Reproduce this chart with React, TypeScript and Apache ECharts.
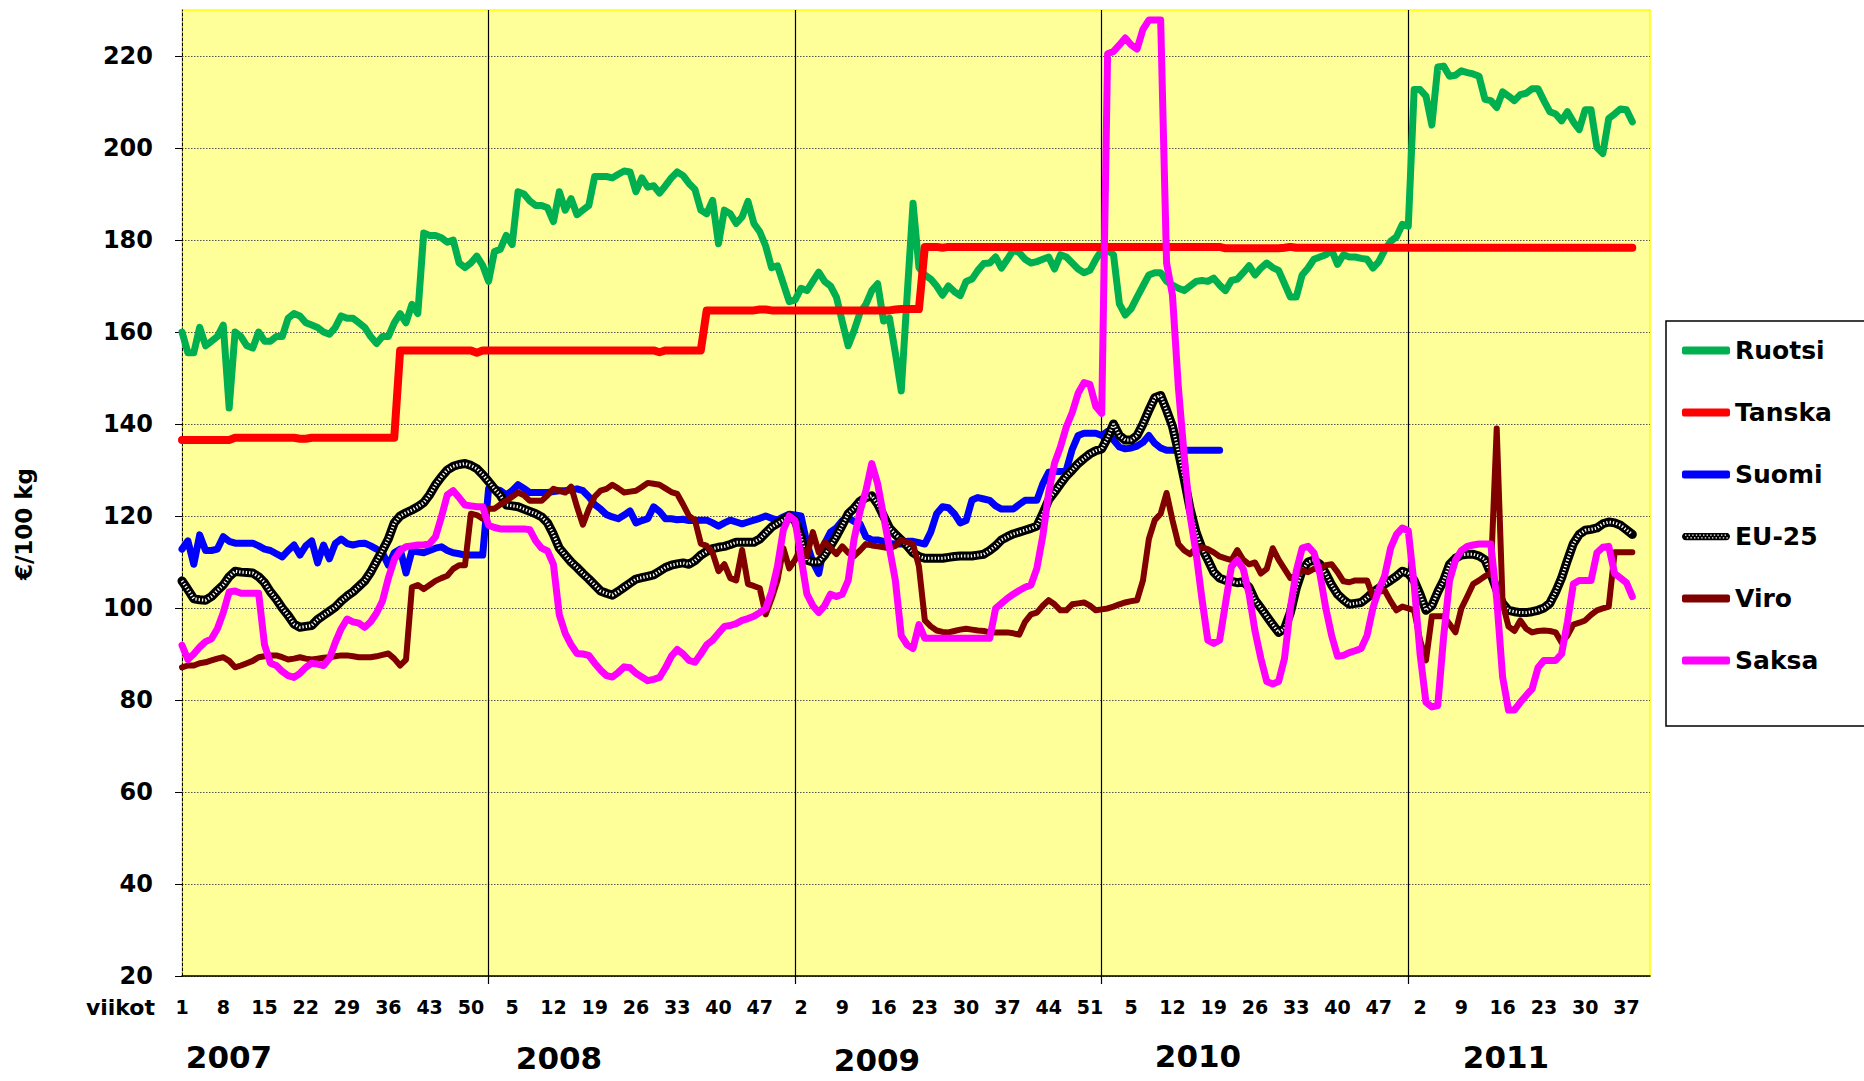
import React, { useEffect, useRef } from 'react';
import * as echarts from 'echarts';

const FONT = '"DejaVu Sans", "Liberation Sans", Arial, sans-serif';

// ---- axes / categories ----
const YEARS = ['2007', '2008', '2009', '2010', '2011'];
const WEEKS_IN_YEAR = [52, 52, 53, 52, 41];
const Y_TICKS = [20, 40, 60, 80, 100, 120, 140, 160, 180, 200, 220];
const Y_MIN = 20;
const Y_MAX = 230;
const WEEK_LABEL_STEP = 7;
const YEAR_GRID_STEP = 52;
const X_AXIS_TITLE = 'viikot';
const Y_AXIS_TITLE = '€/100 kg';

const SERIES_NAMES = ['Ruotsi', 'Tanska', 'Suomi', 'EU-25', 'Viro', 'Saksa'];
const SERIES_COLORS = ['#00B050', '#FF0000', '#0000FF', '#000000', '#800000', '#FF00FF'];

// ---- weekly prices, €/100 kg (2007 w1 ... 2011 w38) ----
const RUOTSI = [
  // 2007
  160, 155.5, 155.5, 161, 157, 158, 159, 161.5, 143.5, 160,
  159, 157, 156.5, 160, 158, 158, 159, 159, 163, 164,
  163.5, 162, 161.5, 161, 160, 159.5, 161, 163.5, 163, 163,
  162, 161, 159, 157.5, 159, 159, 162, 164, 162, 166,
  164, 181.5, 181, 181, 180.5, 179.5, 180, 175, 174, 175,
  176.5, 174.5,
  // 2008
  171, 177.5, 178, 181, 179, 190.5, 190, 188.5, 187.5, 187.5,
  187, 184, 190.5, 186.5, 189, 185.5, 186.5, 187.5, 193.8, 193.8,
  193.8, 193.5, 194.3, 195, 194.8, 190.5, 193.5, 191.5, 191.8, 190.2,
  191.8, 193.5, 194.8, 194, 192.3, 191, 186.5, 185.7, 188.6, 179.2,
  186.5, 185.7, 183.6, 185, 188.4, 183.6, 181.8, 178.7, 174, 174.4,
  170.5, 166.6,
  // 2009
  167, 169.5, 169, 171, 173, 171, 170, 167.6, 162.2, 157,
  160.3, 164.2, 166, 169, 170.5, 162.4, 163, 155.4, 147.2, 168,
  188, 174, 172.4, 171.5, 170, 168, 170, 168.8, 167.9, 171,
  171.5, 173.4, 174.9, 175, 176.3, 173.9, 175.8, 177.8, 177.3, 175.8,
  175, 175.3, 175.8, 176.3, 173.7, 176.8, 176.3, 175, 173.7, 172.9,
  173.4, 175.8, 177.8,
  // 2010
  177.8, 176.8, 166.1, 163.7, 165.1, 167.6, 170, 172.4, 172.9, 172.9,
  171, 170.2, 169.5, 169, 170, 171, 171.2, 171, 171.7, 170.2,
  169, 171.2, 171.5, 172.9, 174.4, 172.4, 173.9, 175, 174, 173.4,
  170.5, 167.6, 167.6, 172.4, 173.9, 175.8, 176.3, 176.8, 177.8, 174.7,
  176.8, 176.3, 176.3, 176, 175.8, 173.9, 175.3, 177.8, 179.7, 180.7,
  183.4, 183,
  // 2011
  212.7, 212.7, 211.3, 205, 217.6, 217.8, 215.6, 215.8, 216.8, 216.4,
  216.1, 215.6, 210.6, 210.3, 208.8, 212.2, 211.3, 210.3, 211.6, 211.9,
  212.9, 212.9, 210.3, 207.9, 207.4, 205.9, 207.9, 205.7, 204, 208.3,
  208.3, 200.1, 198.8, 206.4, 207.4, 208.5, 208.3, 205.7,
];

const TANSKA = [
  // 2007
  136.5, 136.5, 136.5, 136.5, 136.5, 136.5, 136.5, 136.5, 136.5, 137,
  137, 137, 137, 137, 137, 137, 137, 137, 137, 137,
  136.8, 136.8, 137, 137, 137, 137, 137, 137, 137, 137,
  137, 137, 137, 137, 137, 137, 137, 156, 156, 156,
  156, 156, 156, 156, 156, 156, 156, 156, 156, 156,
  155.5, 156,
  // 2008
  156, 156, 156, 156, 156, 156, 156, 156, 156, 156,
  156, 156, 156, 156, 156, 156, 156, 156, 156, 156,
  156, 156, 156, 156, 156, 156, 156, 156, 156, 155.6,
  156, 156, 156, 156, 156, 156, 156, 164.7, 164.7, 164.7,
  164.7, 164.7, 164.7, 164.7, 164.7, 164.7, 164.9, 164.9, 164.7, 164.7,
  164.7, 164.7,
  // 2009
  164.7, 164.7, 164.7, 164.7, 164.7, 164.7, 164.7, 164.7, 164.7, 164.7,
  164.7, 164.7, 164.7, 164.7, 164.7, 164.7, 164.7, 164.9, 165, 165,
  165, 165, 178.5, 178.5, 178.5, 178.3, 178.5, 178.5, 178.5, 178.5,
  178.5, 178.5, 178.5, 178.5, 178.5, 178.5, 178.5, 178.5, 178.5, 178.5,
  178.5, 178.5, 178.5, 178.5, 178.5, 178.5, 178.5, 178.5, 178.5, 178.5,
  178.5, 178.5, 178.5,
  // 2010
  178.5, 178.5, 178.5, 178.5, 178.5, 178.5, 178.5, 178.5, 178.5, 178.5,
  178.5, 178.5, 178.5, 178.5, 178.5, 178.5, 178.5, 178.5, 178.5, 178.5,
  178.2, 178.2, 178.2, 178.2, 178.2, 178.2, 178.2, 178.2, 178.2, 178.2,
  178.3, 178.5, 178.3, 178.3, 178.3, 178.3, 178.3, 178.3, 178.3, 178.3,
  178.3, 178.3, 178.3, 178.3, 178.3, 178.3, 178.3, 178.3, 178.3, 178.3,
  178.3, 178.3,
  // 2011
  178.3, 178.3, 178.3, 178.3, 178.3, 178.3, 178.3, 178.3, 178.3, 178.3,
  178.3, 178.3, 178.3, 178.3, 178.3, 178.3, 178.3, 178.3, 178.3, 178.3,
  178.3, 178.3, 178.3, 178.3, 178.3, 178.3, 178.3, 178.3, 178.3, 178.3,
  178.3, 178.3, 178.3, 178.3, 178.3, 178.3, 178.3, 178.3,
];

const SUOMI = [
  // 2007
  112.8, 114.6, 109.5, 115.9, 112.5, 112.5, 112.8, 115.5, 114.5, 114.1,
  114.1, 114.1, 114.1, 113.5, 112.8, 112.5, 111.8, 111.1, 112.5, 113.7,
  111.5, 113.5, 114.6, 109.8, 113.7, 110.7, 114, 115, 114, 113.7,
  114, 114.1, 113.5, 112.8, 112, 109.3, 112, 112.8, 107.6, 112.4,
  112.2, 112, 112.5, 113, 113.3, 112.5, 112, 111.8, 111.5, 111.5,
  111.5, 111.5,
  // 2008
  125.9, 125.9, 125.5, 124.6, 125.5, 126.8, 126, 125.1, 125.1, 125.1,
  125.1, 125.3, 125.5, 125.5, 125.7, 125.9, 125.5, 124.2, 122.5, 121.5,
  120.3, 119.8, 119.4, 120.2, 121.1, 118.5, 119, 119.4, 122, 121,
  119.4, 119.4, 119.2, 119.3, 119, 119, 119.1, 119.1, 118.5, 117.8,
  118.5, 119.1, 118.7, 118.3, 118.7, 119.1, 119.5, 120, 119.5, 119.1,
  119.8, 120.4,
  // 2009
  120.2, 120, 114, 110, 107.5, 114, 116.5, 117.4, 119, 119.6,
  118.8, 118.3, 115.5, 114.8, 114.8, 114.5, 114, 113.9, 113.9, 114.5,
  114.5, 114.2, 113.9, 116.5, 120.5, 122, 121.8, 120.5, 118.5, 119,
  123.5, 124, 123.7, 123.4, 122.2, 121.5, 121.5, 121.5, 122.5, 123.4,
  123.4, 123.4, 127, 129.5, 129.7, 129.7, 130, 134.5, 137.5, 138,
  138, 138, 137.5,
  // 2010 (series ends at week 20)
  138.4, 136.5, 135, 134.6, 134.8, 135.2, 136, 137.5, 135.8, 134.8,
  134.3, 134.3, 134.3, 134.3, 134.3, 134.3, 134.3, 134.3, 134.3, 134.3,
];

const EU25 = [
  // 2007
  105.9, 104, 102, 101.8, 101.7, 102.5, 103.8, 105, 106.8, 108,
  107.8, 107.7, 107.6, 106.8, 105.5, 103.5, 101.9, 100, 98.4, 96.5,
  95.8, 96, 96.2, 97.5, 98.4, 99.3, 100.2, 101.5, 102.6, 103.5,
  104.7, 105.9, 107.8, 110.2, 112.5, 115, 118.5, 120, 120.7, 121.3,
  122, 122.9, 124.6, 126.8, 128.5, 130, 130.8, 131.2, 131.4, 131,
  130.3, 129,
  // 2008
  127.5, 125.9, 124.5, 122.4, 122.2, 122, 121.5, 121, 120.5, 119.8,
  118.5, 116, 113, 111.5, 110, 108.8, 107.5, 106.3, 105, 103.7,
  103.2, 102.8, 103.6, 104.5, 105.4, 106.3, 106.6, 106.9, 107.2, 108,
  108.8, 109.3, 109.6, 109.8, 109.5, 110.3, 111.5, 112.3, 112.9, 113.2,
  113.4, 113.8, 114.3, 114.3, 114.3, 114.3, 115, 116.3, 117.6, 118.4,
  119.2, 120,
  // 2009
  119, 115.5, 110.4, 110, 110, 111.5, 113.5, 115.6, 118, 120.5,
  121.7, 123.2, 124, 124.4, 122.6, 120, 117.4, 116, 114.8, 113.5,
  112, 111.2, 110.8, 110.8, 110.8, 110.8, 111, 111.2, 111.3, 111.3,
  111.3, 111.5, 111.7, 112.5, 113.5, 114.8, 115.5, 116.1, 116.5, 116.9,
  117.3, 117.8, 120.5, 123.5, 125.2, 127, 128.7, 130, 131.4, 132.5,
  133.5, 134.2, 134.6,
  // 2010
  137, 140, 137.5, 136.5, 136.5, 137.5, 140, 143, 145.7, 146.2,
  143, 139.5, 134, 128, 121.5, 116.5, 113, 110.5, 107.8, 106.5,
  106, 105.8, 105.5, 105.7, 104.5, 101.7, 100, 98.2, 96.4, 94.7,
  95.5, 99, 104.3, 108.2, 110, 110.4, 109.5, 107.5, 105, 103,
  101.8, 100.8, 101, 101.2, 102.2, 103.4, 104.3, 105.2, 106, 106.9,
  108, 107.5,
  // 2011
  106, 103, 99.5, 100.5, 103.5, 106, 109.5, 110.8, 111.5, 111.7,
  111.7, 111.3, 110.5, 107.5, 104, 101, 99.5, 99.2, 99, 99,
  99.2, 99.5, 100, 101, 103.5, 106.5, 110.4, 114, 116, 116.9,
  117.1, 117.4, 118.3, 118.7, 118.5, 118, 117, 116,
];

const VIRO = [
  // 2007
  87.1, 87.5, 87.5, 88, 88.2, 88.6, 89, 89.3, 88.5, 87.1,
  87.5, 88, 88.5, 89.3, 89.5, 89.7, 89.7, 89.3, 88.8, 89,
  89.3, 89, 88.8, 89, 89.2, 89.3, 89.5, 89.7, 89.7, 89.5,
  89.3, 89.3, 89.3, 89.5, 89.8, 90.1, 89, 87.5, 88.8, 104.5,
  105, 104.1, 105, 105.9, 106.5, 107, 108.5, 109.3, 109.3, 120.5,
  120.2, 119.4,
  // 2008
  121.6, 121.6, 122.5, 123.3, 124.2, 125.1, 124.5, 123.3, 123.3, 123.3,
  124.5, 125.9, 125.5, 125.1, 126.4, 122, 118.1, 121.5, 124.2, 125.5,
  125.9, 126.8, 126, 125.1, 125.3, 125.5, 126.3, 127.2, 127, 126.8,
  126, 125.2, 124.8, 122.5, 120, 119.1, 114, 113.5, 112, 108,
  109.5, 106.5, 106, 112.6, 105.2, 104.8, 104.3, 98.6, 102, 106,
  113, 108.6,
  // 2009
  110.5, 113, 111.3, 116.5, 112.1, 114.3, 113, 111.7, 113.4, 112,
  111.3, 112.5, 113.9, 113.6, 113.4, 113.2, 113, 113.5, 114.8, 114.3,
  113.9, 109, 97.3, 96, 95.1, 94.8, 94.7, 95, 95.3, 95.5,
  95.3, 95.1, 95, 94.7, 94.7, 94.7, 94.7, 94.5, 94.2, 97,
  98.6, 99, 100.5, 101.7, 100.8, 99.5, 99.5, 100.8, 101, 101.2,
  100.5, 99.5, 99.7,
  // 2010
  99.9, 100.3, 100.8, 101.2, 101.5, 101.7, 106, 115, 119.1, 120.5,
  125, 119.1, 113.9, 112.5, 111.7, 113, 113.2, 112.8, 112.1, 111.2,
  110.8, 110.4, 112.6, 110.5, 109.5, 109.9, 107.5, 108.5, 113, 110.5,
  108.5, 106.5, 107, 108.2, 107.8, 108.5, 108.6, 109.3, 109.5, 107.8,
  105.8, 105.6, 106, 106, 106, 102.5, 103.5, 103.8, 101.5, 99.5,
  100.3, 99.9,
  // 2011
  99.5, 93, 88.6, 98.2, 98.2, 98.2, 96.5, 94.7, 99.9, 102.5,
  105.2, 106, 106.9, 107.5, 139, 101, 96, 95, 97.3, 95.5,
  94.7, 95, 95.1, 95, 94.7, 92.5, 94, 96.4, 96.8, 97.3,
  98.5, 99.5, 99.9, 100.3, 112.1, 112.1, 112.1, 112.1,
];

const SAKSA = [
  // 2007
  91.9, 88.8, 90, 91.5, 92.7, 93.3, 95.5, 99, 103.5, 103.7,
  103.2, 103.2, 103.2, 103.2, 92, 88, 87.5, 86.2, 85.3, 84.9,
  85.8, 87.1, 88, 87.8, 87.5, 89, 92.5, 95.5, 97.6, 97,
  96.7, 95.8, 97, 98.9, 101.5, 106.5, 110.5, 112.5, 113.3, 113.5,
  113.7, 113.7, 114, 115.5, 119.8, 124.6, 125.5, 124, 122.4, 122.2,
  122, 122,
  // 2008
  118, 117.5, 117.2, 117.2, 117.2, 117.2, 117.2, 117, 114.6, 113,
  112.4, 109.5, 98.5, 94.5, 92, 90.1, 90, 89.7, 88, 86.5,
  85.3, 85, 86, 87.2, 87, 85.8, 85, 84.2, 84.5, 84.9,
  87, 89.5, 91, 90, 88.6, 88.2, 90, 92, 93, 94.5,
  96, 96.2, 96.6, 97.3, 97.7, 98.2, 99, 99.9, 103.5, 109,
  117, 120,
  // 2009
  119, 111, 103, 100.5, 99, 100.5, 103, 102.5, 103, 106,
  115, 121, 125.5, 131.4, 127, 120, 113, 106, 94, 92,
  91.2, 96.4, 93.4, 93.4, 93.4, 93.4, 93.4, 93.4, 93.4, 93.4,
  93.4, 93.4, 93.4, 93.4, 99.9, 101, 102.1, 103, 103.8, 104.5,
  105, 108.6, 115.6, 125, 131.5, 135, 139.4, 142.5, 146.7, 149,
  148.6, 143.8, 142.3,
  // 2010
  220.5, 221, 222.4, 223.9, 222.4, 221.5, 225.8, 227.8, 227.8, 227.8,
  175, 168, 148, 133, 120, 112, 102, 93, 92.3, 93,
  101, 109, 110.4, 108.5, 103, 95, 89, 84, 83.5, 84,
  89, 100, 108, 113, 113.4, 112, 107.5, 100, 94, 89.5,
  89.7, 90.3, 90.7, 91.2, 94, 100, 104, 107, 113, 116,
  117.4, 116.8,
  // 2011
  105, 90, 79.5, 78.5, 78.8, 93.8, 106, 110.4, 112.5, 113.4,
  113.7, 113.9, 113.9, 113.9, 102, 85, 77.8, 77.8, 79.5, 81,
  82.4, 87, 88.6, 88.6, 88.6, 90, 97, 105.2, 106, 106,
  106, 112, 113.2, 113.4, 107.5, 106.5, 105.5, 102.5,
];

const SERIES_VALUES = [RUOTSI, TANSKA, SUOMI, EU25, VIRO, SAKSA];

// week number of every category along the x axis
const WEEKS: number[] = [];
WEEKS_IN_YEAR.forEach((n) => {
  for (let w = 1; w <= n; w++) WEEKS.push(w);
});
const X_MAX = WEEKS.length - 1;
const WEEK_TICKS = WEEKS.map((_, i) => i).filter((i) => i % WEEK_LABEL_STEP === 0);
const YEAR_TICKS = WEEKS.map((_, i) => i).filter((i) => i > 0 && i % YEAR_GRID_STEP === 0);

const toPairs = (vals: number[]) => vals.map((v, i) => [i, v]);

const EU_ICON =
  'image://data:image/svg+xml;charset=utf-8,' +
  encodeURIComponent(
    '<svg xmlns="http://www.w3.org/2000/svg" width="48" height="9">' +
      '<rect x="0" y="0" width="48" height="9" rx="4.5" fill="#000"/>' +
      '<line x1="3" y1="3" x2="46" y2="3" stroke="#fff" stroke-width="1.4" stroke-dasharray="1.4 2.2"/>' +
      '<line x1="4.8" y1="6" x2="46" y2="6" stroke="#fff" stroke-width="1.4" stroke-dasharray="1.4 2.2"/>' +
      '</svg>'
  );

export default function App() {
  const ref = useRef<HTMLDivElement>(null);

  useEffect(() => {
    document.body.style.margin = '0';
    if (!ref.current) return;
    const chart = echarts.init(ref.current, undefined, { renderer: 'svg' });

    const widths = [7, 8, 7, 9, 6, 7];
    const series: any[] = [];
    SERIES_NAMES.forEach((name, k) => {
      series.push({
        type: 'line',
        name,
        data: toPairs(SERIES_VALUES[k]),
        showSymbol: false,
        symbol: 'none',
        silent: true,
        lineStyle: { color: SERIES_COLORS[k], width: widths[k], cap: 'round', join: 'round' },
        itemStyle: { color: SERIES_COLORS[k] },
        emphasis: { disabled: true },
      });
      if (name === 'EU-25') {
        series.push({
          type: 'line',
          name: 'EU-25 pattern',
          data: toPairs(SERIES_VALUES[k]),
          showSymbol: false,
          symbol: 'none',
          silent: true,
          lineStyle: { color: '#FFFFFF', width: 3, type: [1.3, 2] },
          itemStyle: { color: '#FFFFFF' },
          emphasis: { disabled: true },
        });
      }
    });

    const labelText = { fontFamily: FONT, fontWeight: 'bold', color: '#000' };
    const yearPos = [
      [229, 1057],
      [559, 1058],
      [877, 1060],
      [1198, 1056],
      [1506, 1057],
    ];

    chart.setOption({
      animation: false,
      backgroundColor: '#FFFFFF',
      grid: {
        left: 182,
        right: 214,
        top: 10,
        bottom: 105,
        show: true,
        backgroundColor: '#FFFF99',
        borderColor: '#FFFF00',
        borderWidth: 1.5,
        containLabel: false,
        outerBoundsMode: 'none',
      },
      xAxis: {
        type: 'value',
        min: 0,
        max: X_MAX,
        axisLine: { show: true, onZero: false, lineStyle: { color: '#000', width: 1.5 } },
        axisTick: { show: true, customValues: YEAR_TICKS, length: 8, lineStyle: { color: '#000', width: 1.2 } },
        axisLabel: {
          customValues: WEEK_TICKS,
          formatter: (v: number) => String(WEEKS[Math.round(v)]),
          margin: 21,
          fontSize: 19,
          ...labelText,
        },
        splitLine: { show: true, lineStyle: { color: '#000', width: 1.2, type: 'solid' } },
      },
      yAxis: {
        type: 'value',
        min: Y_MIN,
        max: Y_MAX,
        interval: 20,
        axisLine: { show: true, lineStyle: { color: '#000', width: 1, type: [3, 2] } },
        axisTick: { show: true, customValues: Y_TICKS, length: 7, lineStyle: { color: '#000', width: 1 } },
        axisLabel: { customValues: Y_TICKS, margin: 29, fontSize: 24, ...labelText },
        splitLine: { show: true, lineStyle: { color: '#555', width: 1, type: [1.5, 1.5] } },
      },
      legend: {
        orient: 'vertical',
        left: 1666,
        top: 321,
        padding: [17, 120, 53, 16],
        itemGap: 37,
        itemWidth: 48,
        itemHeight: 8,
        selectedMode: false,
        backgroundColor: '#FFFFFF',
        borderColor: '#000',
        borderWidth: 1.5,
        borderRadius: 0,
        textStyle: { fontSize: 25, ...labelText },
        data: SERIES_NAMES.map((name) => ({ name, icon: name === 'EU-25' ? EU_ICON : 'roundRect' })),
      },
      graphic: [
        {
          type: 'text',
          x: 24,
          y: 524,
          rotation: Math.PI / 2,
          style: { text: Y_AXIS_TITLE, fontSize: 23, fontWeight: 'bold', fontFamily: FONT, fill: '#000', align: 'center', verticalAlign: 'middle' },
        },
        {
          type: 'text',
          x: 155,
          y: 1007,
          style: { text: X_AXIS_TITLE, fontSize: 22, fontWeight: 'bold', fontFamily: FONT, fill: '#000', align: 'right', verticalAlign: 'middle' },
        },
        ...YEARS.map((yr, k) => ({
          type: 'text',
          x: yearPos[k][0],
          y: yearPos[k][1],
          style: { text: yr, fontSize: 31, fontWeight: 'bold', fontFamily: FONT, fill: '#000', align: 'center', verticalAlign: 'middle' },
        })),
      ],
      series,
    });

    return () => chart.dispose();
  }, []);

  return <div ref={ref} style={{ width: 1864, height: 1081 }} />;
}
